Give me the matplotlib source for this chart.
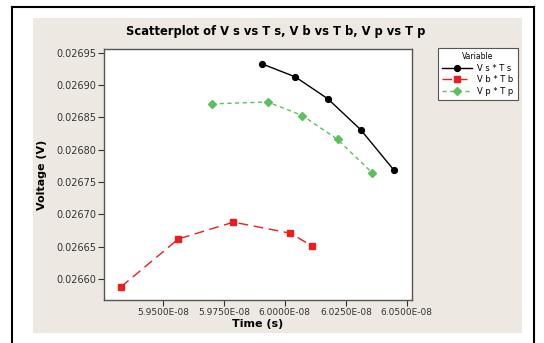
import matplotlib.pyplot as plt
from matplotlib.patches import Rectangle
from matplotlib.ticker import FuncFormatter
import numpy as np

# readings from the reference (time in seconds, voltage in volts)
t_s = [5.9906e-08, 6.0042e-08, 6.0176e-08, 6.0311e-08, 6.0448e-08]
v_s = [0.026933, 0.026913, 0.026879, 0.026831, 0.026768]

t_b = [5.9329e-08, 5.9564e-08, 5.9789e-08, 6.0022e-08, 6.0112e-08]
v_b = [0.026588, 0.026662, 0.026688, 0.026671, 0.026651]

t_p = [5.9702e-08, 5.9929e-08, 6.0072e-08, 6.0216e-08, 6.0359e-08]
v_p = [0.026871, 0.026874, 0.026853, 0.026816, 0.026764]

x_ticks = [5.95e-08, 5.975e-08, 6.0e-08, 6.025e-08, 6.05e-08]
y_ticks = [0.02660, 0.02665, 0.02670, 0.02675, 0.02680, 0.02685, 0.02690, 0.02695]

W, H = 544, 343
fig = plt.figure(figsize=(W / 100, H / 100), dpi=100)
fig.patch.set_facecolor('white')

# beige background panel and outer black frame
fig.patches.append(Rectangle((33 / W, 1 - 333 / H), (522 - 33) / W, (333 - 18) / H,
                             transform=fig.transFigure, facecolor='#ede8e1',
                             edgecolor='none', zorder=-5))
fig.add_artist(plt.Line2D([12 / W, 12 / W], [0, 1 - 7 / H], color='black', lw=1.5,
                          transform=fig.transFigure))
fig.add_artist(plt.Line2D([12 / W, 534 / W], [1 - 7 / H, 1 - 7 / H], color='black', lw=1.5,
                          transform=fig.transFigure))
fig.add_artist(plt.Line2D([534 / W, 534 / W], [0, 1 - 7 / H], color='black', lw=1.5,
                          transform=fig.transFigure))

ax = fig.add_axes([104 / W, 1 - 300 / H, (412 - 104) / W, (300 - 49) / H], zorder=2)
ax.set_facecolor('white')

ax.plot(t_s, v_s, color='black', lw=1.0, marker='o', ms=4.2, label='V s * T s')
ax.plot(t_b, v_b, color='#ee1c1c', lw=1.0, ls=(0, (7, 4)), marker='s', ms=4.2,
        label='V b * T b')
ax.plot(t_p, v_p, color='#5cc05c', lw=1.0, ls=(0, (3, 2.5)), marker='D', ms=3.8,
        label='V p * T p')

ax.set_xlim(5.9259e-08, 6.0521e-08)
ax.set_ylim(0.0265675, 0.026956)
ax.set_xticks(x_ticks)
ax.set_yticks(y_ticks)
ax.xaxis.set_major_formatter(FuncFormatter(lambda v, p: f"{v:.4E}"))
ax.yaxis.set_major_formatter(FuncFormatter(lambda v, p: f"{v:.5f}"))
ax.tick_params(labelsize=7, colors='#333333', length=4, width=0.8, pad=1.5)
ax.tick_params(axis='x', labelsize=6.5)
for s in ax.spines.values():
    s.set_color('#555555')
    s.set_linewidth(1.0)

ax.set_xlabel('Time (s)', fontsize=8, fontweight='bold', labelpad=2)
ax.set_ylabel('Voltage (V)', fontsize=8, fontweight='bold', labelpad=7)
fig.text(276 / W, 1 - 32 / H, 'Scatterplot of V s vs T s, V b vs T b, V p vs T p',
         ha='center', va='center', fontsize=8.3, fontweight='bold')

leg = ax.legend(title='Variable', loc='upper left', bbox_to_anchor=(438 / W, 1 - 48 / H),
                bbox_transform=fig.transFigure, fontsize=6, title_fontsize=5.5,
                frameon=True, fancybox=False, edgecolor='#555555', framealpha=1,
                handlelength=3.6, borderpad=0.5, labelspacing=0.3, handletextpad=0.6,
                borderaxespad=0, markerscale=1.0)
leg.get_frame().set_linewidth(0.8)

fig.savefig('out.png', dpi=100)
